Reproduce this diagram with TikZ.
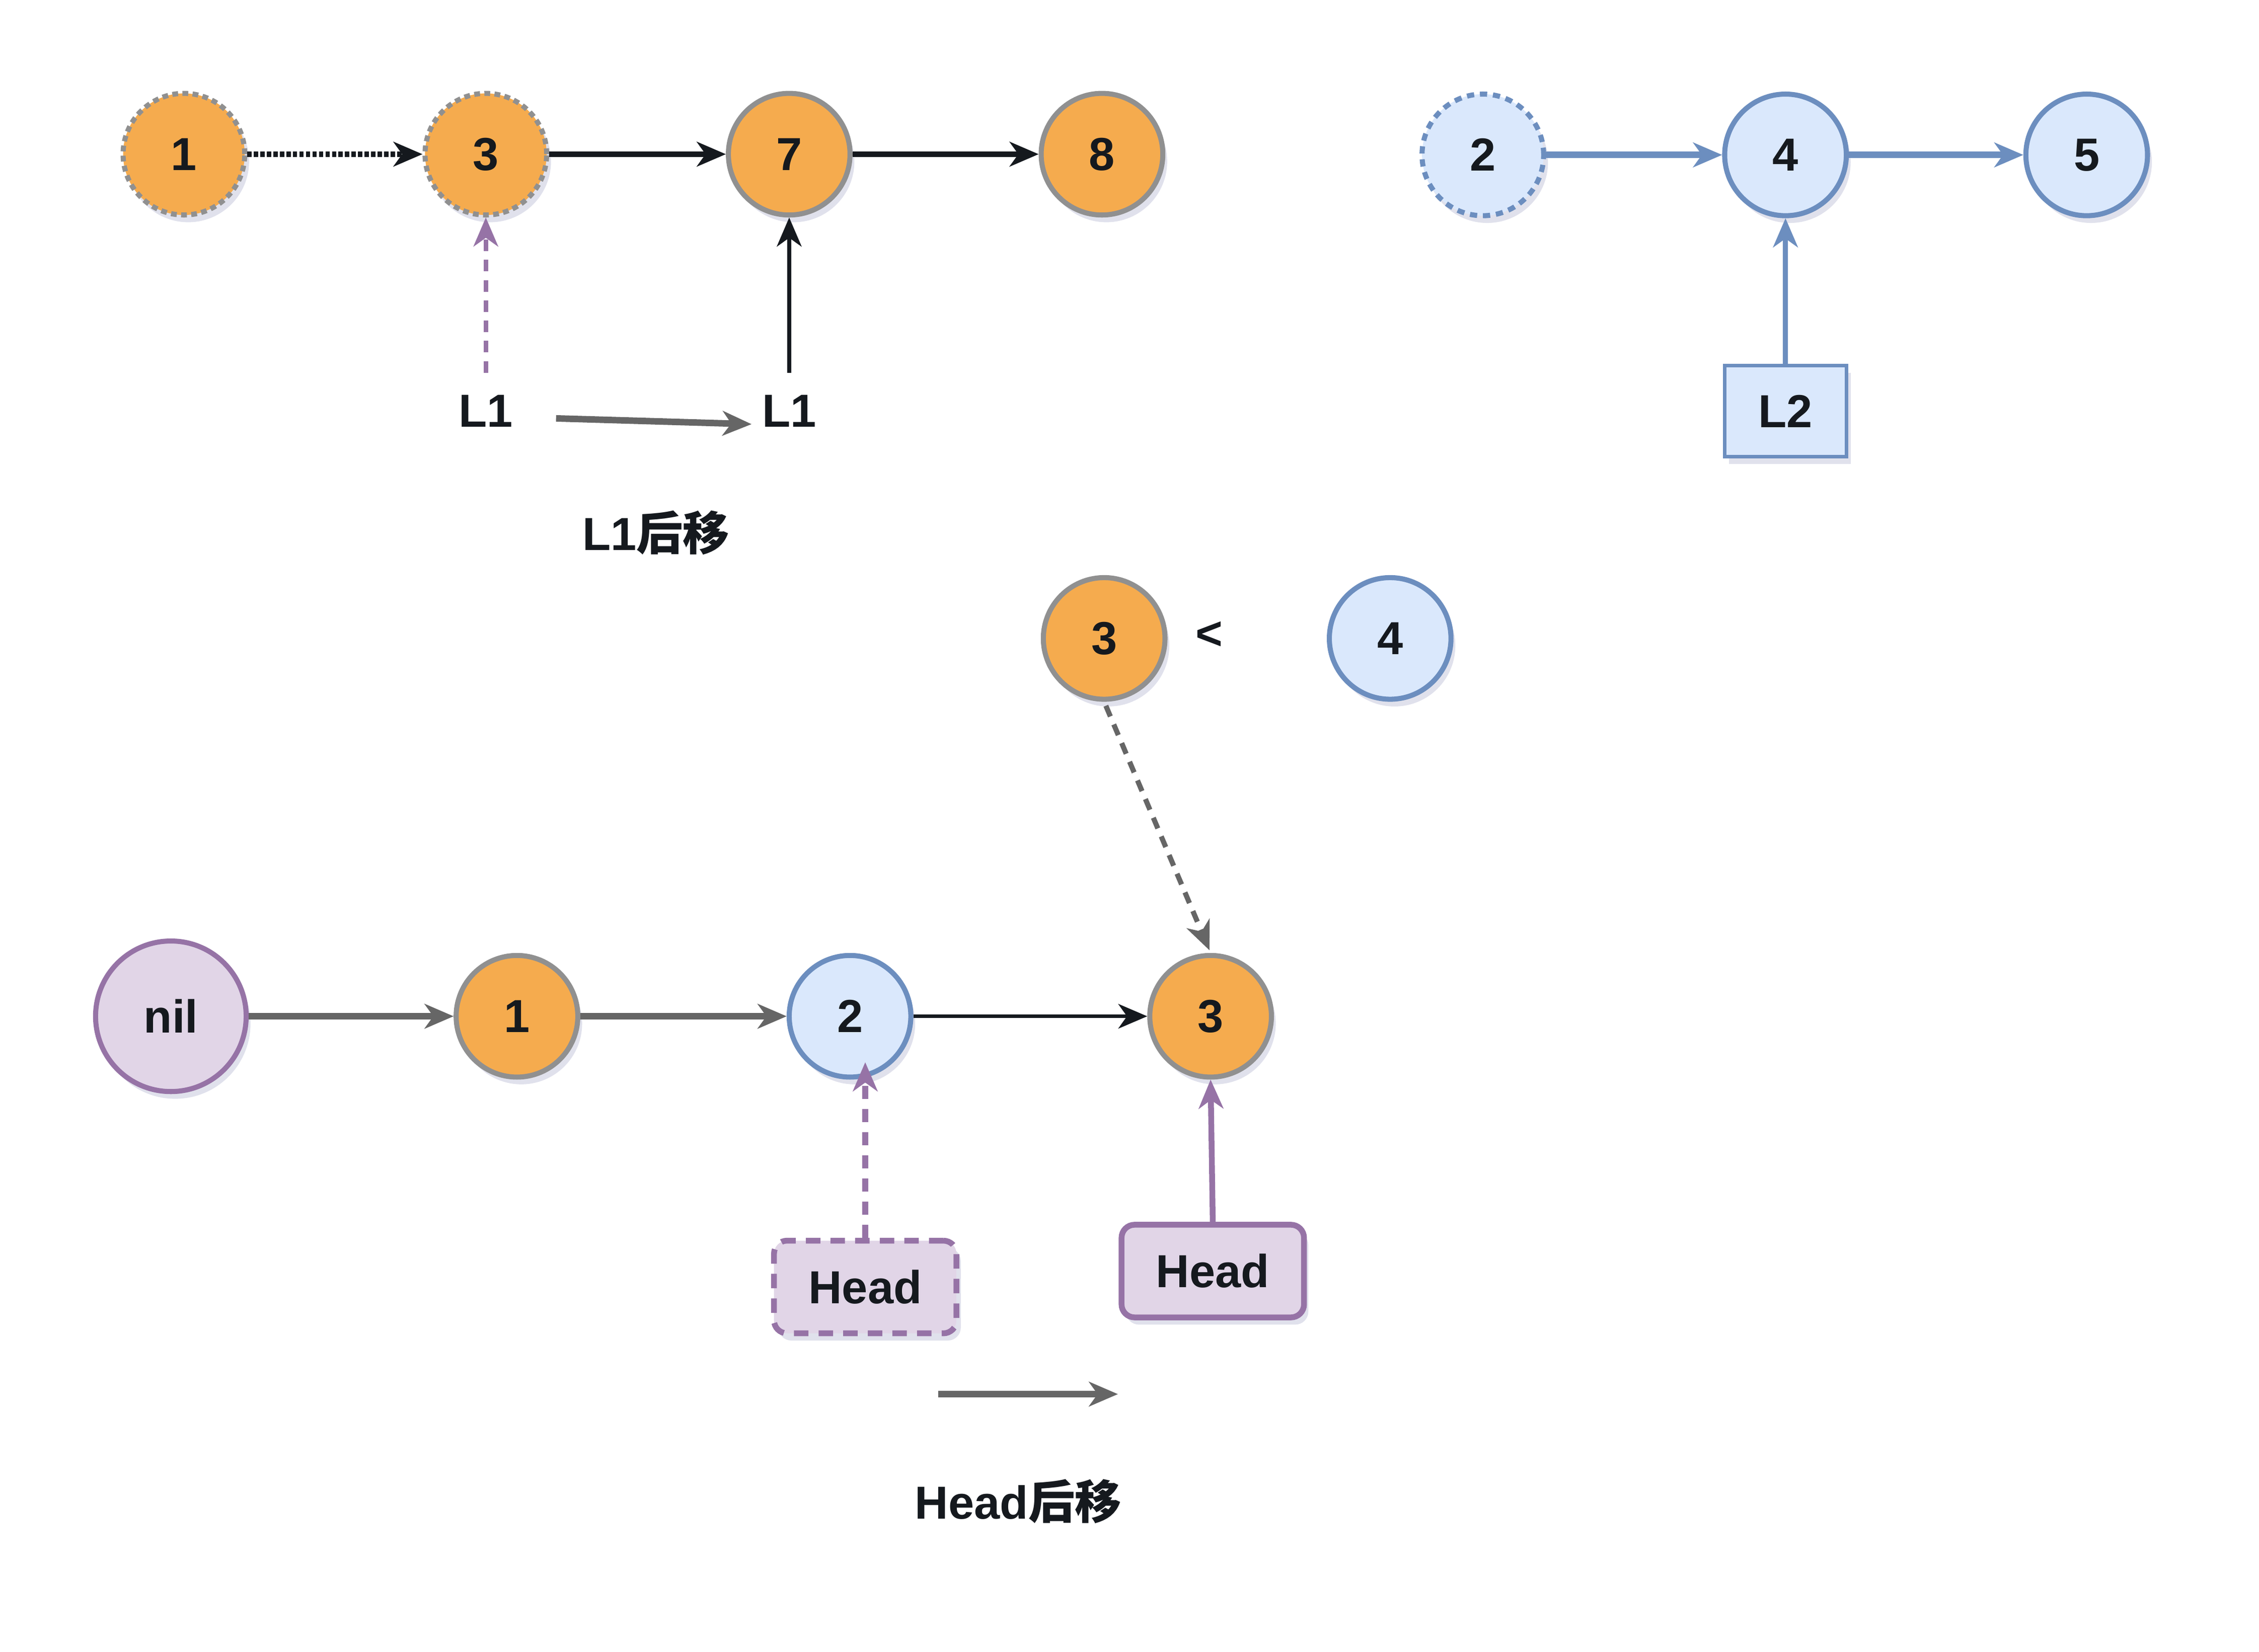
\documentclass[tikz,border=0pt]{standalone}
\usepackage{fontspec}
\setmainfont{Liberation Sans}
\newfontfamily\cjk{Noto Sans CJK SC}
\usetikzlibrary{arrows.meta,shadows}
\definecolor{ofill}{HTML}{F5AB4E}
\definecolor{obord}{HTML}{909090}
\definecolor{bfill}{HTML}{DAE8FC}
\definecolor{bbord}{HTML}{6C8EBF}
\definecolor{pfill}{HTML}{E1D5E7}
\definecolor{pbord}{HTML}{9673A6}
\definecolor{ink}{HTML}{15191E}
\definecolor{garrow}{HTML}{666666}
\definecolor{shad}{HTML}{9A9CC0}
\begin{document}
\begin{tikzpicture}[x=1pt,y=-1pt,
  txt/.style={font=\fontsize{32}{36}\selectfont\bfseries, text=ink},
  shd/.style={drop shadow={shadow xshift=3pt, shadow yshift=-5pt, opacity=0.3, fill=shad}},
  onode/.style={circle, minimum size=84pt, inner sep=0pt, fill=ofill, draw=obord, line width=3.5pt, txt, shd},
  bnode/.style={circle, minimum size=84pt, inner sep=0pt, fill=bfill, draw=bbord, line width=3.5pt, txt, shd},
  pnode/.style={circle, minimum size=104pt, inner sep=0pt, fill=pfill, draw=pbord, line width=3.5pt, txt, shd},
  dotbord/.style={dash pattern=on 4pt off 3pt},
  tip/.style={-{Stealth[length=20pt,width=17pt,inset=6pt]}},
  blk/.style={tip, draw=ink, line width=4pt},
  gry/.style={tip, draw=garrow, line width=4.5pt},
  blu/.style={tip, draw=bbord, line width=4.5pt},
  pur/.style={tip, draw=pbord, line width=3.5pt},
  headbox/.style={rectangle, rounded corners=9pt, minimum width=126pt, minimum height=64pt, fill=pfill, draw=pbord, line width=4pt, txt, shd}
]
\useasboundingbox (0,0) rectangle (1560,1141);

% top left list
\node[onode, dotbord] (t1) at (127,106.5) {1};
\node[onode, dotbord] (t3) at (335.5,106.5) {3};
\node[onode] (t7) at (545,106.5) {7};
\node[onode] (t8) at (761,106.5) {8};
\draw[blk, dash pattern=on 3pt off 1.5pt, line width=4pt] (t1) -- (t3);
\draw[blk] (t3) -- (t7);
\draw[blk] (t7) -- (t8);

\node[txt] (l1a) at (335.5,284) {L1};
\node[txt] (l1b) at (545,284) {L1};
\draw[pur, dash pattern=on 8pt off 6pt, line width=3pt, shorten <=12pt] (l1a.north) -- (t3.south);
\draw[blk, line width=3pt, shorten <=12pt] (l1b.north) -- (t7.south);
\coordinate (ma) at (384,289);
\coordinate (mb) at (519,293);
\draw[gry] (ma) -- (mb);
\node[txt] (cap1) at (453,368) {L1{\cjk 后移}};

% top right list
\node[bnode, dash pattern=on 5pt off 4pt] (r2) at (1024,107) {2};
\node[bnode] (r4) at (1233,107) {4};
\node[bnode] (r5) at (1441,107) {5};
\draw[blu] (r2) -- (r4);
\draw[blu] (r4) -- (r5);
\node[rectangle, minimum width=84pt, minimum height=63pt, fill=bfill, draw=bbord, line width=2.5pt, txt, shd] (l2) at (1233,284) {L2};
\draw[blu, line width=3.5pt] (l2.north) -- (r4.south);

% comparison
\node[onode] (m3) at (762.5,441) {3};
\node[txt] (lt) at (835,439) {<};
\node[bnode] (m4) at (960,441) {4};

% bottom list
\node[pnode] (nil) at (118,702) {nil};
\node[onode] (b1) at (357,702) {1};
\node[bnode] (b2) at (587,702) {2};
\node[onode] (b3) at (836,702) {3};
\draw[gry] (nil) -- (b1);
\draw[gry] (b1) -- (b2);
\draw[tip, draw=ink, line width=2.2pt] (b2) -- (b3);
\draw[gry, dash pattern=on 8pt off 6pt, line width=3.5pt, shorten <=3pt, shorten >=2pt] (m3.south) -- (b3.north);

\node[headbox, dash pattern=on 10pt off 7pt] (h1) at (597.5,889) {Head};
\node[headbox] (h2) at (837.5,878) {Head};
\draw[pur, dash pattern=on 9pt off 7pt, line width=4pt] (h1.north) -- ([yshift=12pt]h1.north |- b2.south);
\draw[pur, line width=4pt] (h2.north) -- (b3.south);

\coordinate (ha) at (648,963);
\coordinate (hb) at (772,963);
\draw[gry] (ha) -- (hb);
\node[txt] (cap2) at (703,1037) {Head{\cjk 后移}};
\end{tikzpicture}
\end{document}
